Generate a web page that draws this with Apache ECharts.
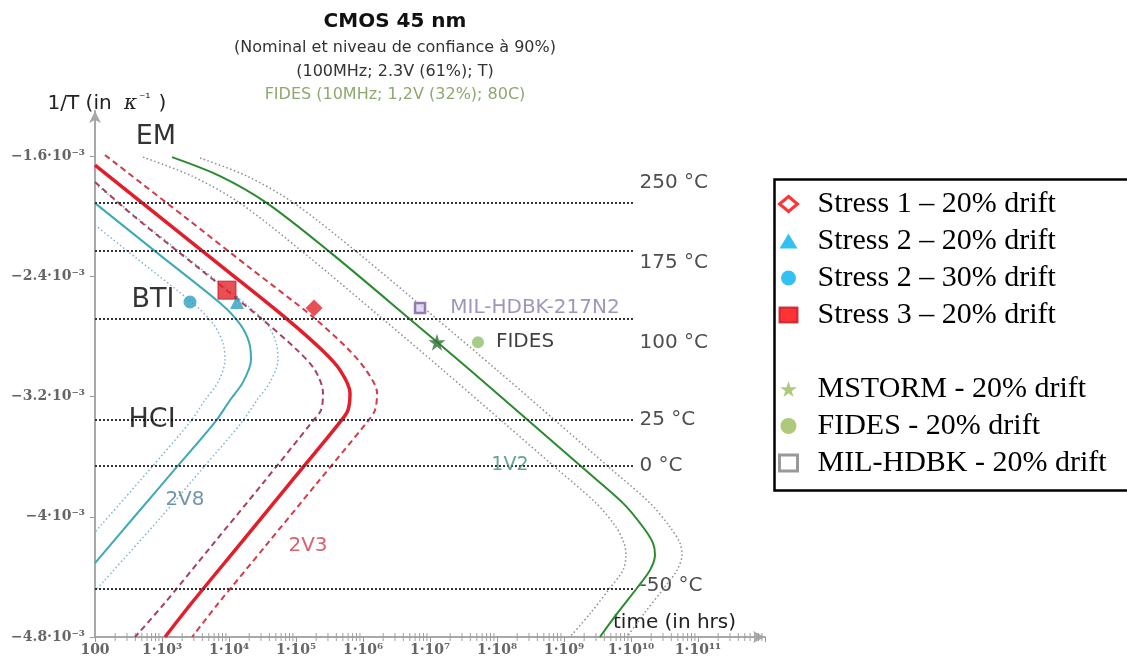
<!DOCTYPE html>
<html>
<head>
<meta charset="utf-8">
<script src="https://cdn.jsdelivr.net/npm/echarts@6/dist/echarts.min.js"></script>
<style>
  html, body { margin: 0; padding: 0; background: #ffffff; }
  #chart { width: 1127px; height: 663px; }
</style>
</head>
<body>
<div id="chart"></div>
<script>
// ---- Axes: time in hours (log) vs. inverse temperature (−1/T, K⁻¹) ----
const yTickValues = [-4.8e-3, -4.0e-3, -3.2e-3, -2.4e-3, -1.6e-3];
const yTickLabels = ['−4.8·10⁻³', '−4·10⁻³', '−3.2·10⁻³', '−2.4·10⁻³', '−1.6·10⁻³'];
const xTickLabels = ['100', '1·10³', '1·10⁴', '1·10⁵', '1·10⁶', '1·10⁷',
                     '1·10⁸', '1·10⁹', '1·10¹⁰', '1·10¹¹'];

// ---- Reference temperatures ----
const tempLabels = ['250 °C', '175 °C', '100 °C', '25 °C', '0 °C', '-50 °C'];
const tempInvK   = [-1.911e-3, -2.231e-3, -2.680e-3, -3.354e-3, -3.661e-3, -4.481e-3];

// ---- EM, 1V2 (nominal and 90% bounds) : [hours, -1/T] ----
const em12Nominal = [[1.41e3, -1.607e-3], [7.35e3, -1.733e-3], [3.69e4, -1.913e-3], [3.21e5, -2.239e-3],
  [5.02e6, -2.685e-3], [3.95e7, -3.024e-3], [3.11e8, -3.370e-3], [1.92e9, -3.676e-3], [7.60e9, -3.909e-3],
  [1.51e10, -4.068e-3], [2.13e10, -4.175e-3], [2.28e10, -4.254e-3], [1.92e10, -4.355e-3],
  [1.23e10, -4.474e-3], [6.18e9, -4.645e-3], [3.44e9, -4.800e-3]];
const em12Low = [[520, -1.607e-3], [2.81e3, -1.733e-3], [1.46e4, -1.913e-3], [1.27e5, -2.239e-3],
  [1.99e6, -2.685e-3], [1.56e7, -3.024e-3], [1.23e8, -3.370e-3], [7.60e8, -3.676e-3], [3.01e9, -3.909e-3],
  [5.97e9, -4.068e-3], [7.87e9, -4.175e-3], [8.42e9, -4.254e-3], [7.60e9, -4.355e-3],
  [4.86e9, -4.474e-3], [2.44e9, -4.645e-3], [1.23e9, -4.800e-3]];
const em12High = [[3.69e3, -1.613e-3], [1.86e4, -1.733e-3], [9.33e4, -1.913e-3], [8.13e5, -2.239e-3],
  [1.27e7, -2.685e-3], [1.0e8, -3.024e-3], [7.87e8, -3.370e-3], [4.86e9, -3.676e-3], [1.92e10, -3.909e-3],
  [3.82e10, -4.068e-3], [5.38e10, -4.175e-3], [5.77e10, -4.254e-3], [4.86e10, -4.355e-3],
  [3.11e10, -4.474e-3], [1.56e10, -4.645e-3], [8.71e9, -4.800e-3]];

// ---- 2V3 (nominal and 90% bounds) ----
const v23Nominal = [[100, -1.660e-3], [933, -2.006e-3], [8.71e3, -2.352e-3], [7.35e4, -2.685e-3],
  [2.44e5, -2.891e-3], [4.54e5, -3.024e-3], [6.40e5, -3.177e-3], [5.97e5, -3.290e-3], [4.54e5, -3.370e-3],
  [8.13e4, -3.776e-3], [1.46e4, -4.182e-3], [2.62e3, -4.587e-3], [1.11e3, -4.800e-3]];
const v23Low = [[100, -1.773e-3], [395, -2.006e-3], [3.69e3, -2.352e-3], [3.11e4, -2.685e-3],
  [1.04e5, -2.891e-3], [1.92e5, -3.024e-3], [2.53e5, -3.177e-3], [2.36e5, -3.290e-3], [1.73e5, -3.370e-3],
  [3.22e4, -3.776e-3], [5.77e3, -4.182e-3], [1.04e3, -4.587e-3], [395, -4.800e-3]];
const v23High = [[141, -1.593e-3], [2.20e3, -2.006e-3], [2.06e4, -2.345e-3], [1.73e5, -2.665e-3],
  [5.77e5, -2.877e-3], [1.11e6, -3.024e-3], [1.62e6, -3.177e-3], [1.51e6, -3.290e-3], [1.15e6, -3.370e-3],
  [2.06e5, -3.776e-3], [3.69e4, -4.182e-3], [6.62e3, -4.587e-3], [2.81e3, -4.800e-3]];

// ---- 2V8 (nominal and 90% bounds) ----
const v28Nominal = [[100, -1.913e-3], [933, -2.259e-3], [7.35e3, -2.578e-3], [1.46e4, -2.718e-3],
  [1.99e4, -2.838e-3], [2.13e4, -2.957e-3], [1.62e4, -3.104e-3], [1.04e4, -3.223e-3], [6.18e3, -3.370e-3],
  [1.56e3, -3.683e-3], [395, -3.995e-3], [100, -4.308e-3]];
const v28Low = [[100, -2.059e-3], [395, -2.272e-3], [3.11e3, -2.591e-3], [5.97e3, -2.724e-3],
  [8.13e3, -2.844e-3], [8.71e3, -2.957e-3], [6.86e3, -3.104e-3], [4.39e3, -3.223e-3], [2.62e3, -3.370e-3],
  [662, -3.683e-3], [100, -4.102e-3]];
const v28High = [[100, -1.786e-3], [2.20e3, -2.265e-3], [1.86e4, -2.591e-3], [3.69e4, -2.718e-3],
  [5.02e4, -2.838e-3], [5.38e4, -2.957e-3], [4.09e4, -3.104e-3], [2.62e4, -3.223e-3], [1.56e4, -3.370e-3],
  [3.95e3, -3.683e-3], [1.0e3, -3.995e-3], [100, -4.494e-3]];

// ---- Measured / predicted points ----
const stress1_20 = [[1.86e5, -2.611e-3]];
const stress2_20 = [[1.32e4, -2.571e-3]];
const stress2_30 = [[2.62e3, -2.571e-3]];
const stress3_20 = [[9.33e3, -2.492e-3]];
const mstorm_20  = [[1.27e7, -2.838e-3]];
const fides_20   = [[5.2e7, -2.838e-3]];
const milhdbk_20 = [[7.1e6, -2.611e-3]];

// ---- Mechanism / voltage annotations ----
const noteText = ['EM', 'BTI', 'HCI', '2V8', '2V3', '1V2'];
const noteAt   = [[813, -1.474e-3], [735, -2.558e-3], [710, -3.356e-3],
                  [2.2e3, -3.889e-3], [1.51e5, -4.195e-3], [1.56e8, -3.656e-3]];

// ---- styling ----
const noteStyle = [
  { fontSize: 27, color: '#000' }, { fontSize: 27, color: '#000' }, { fontSize: 27, color: '#000' },
  { fontSize: 20, color: '#4c7a96' }, { fontSize: 20, color: '#d0394a' }, { fontSize: 19, color: '#3b8f78' }
];
const tempLabelDy = [-20, 12, 24, 0, 0, -3];
const tempLineEnd = 1.07e10;
const sans = "'DejaVu Sans', Verdana, sans-serif";
const serif = "'Liberation Serif', 'Times New Roman', serif";
const tickFont = "'DejaVu Serif', serif";
const starPath = 'path://M50,0 L61,35 L98,35 L68,57 L79,91 L50,70 L21,91 L32,57 L2,35 L39,35 Z';

function curve(name, data, color, width, type) {
  return {
    name: name, type: 'line', data: data, showSymbol: false, smooth: 0.3,
    lineStyle: { color: color, width: width, type: type },
    z: 3, silent: true
  };
}
function points(name, data, symbol, size, style, label) {
  return {
    name: name, type: 'scatter', data: data, symbol: symbol, symbolSize: size,
    itemStyle: style, z: 6, silent: true, label: label || { show: false }
  };
}

// small log-spaced minor ticks (2..9 in every decade) along the time axis
const minorTicks = [];
for (let d = 2; d < 12; d++) {
  for (let m = 2; m <= 9; m++) minorTicks.push(m * Math.pow(10, d));
}

const legendText = { fontFamily: serif, fontSize: 30, color: '#000', padding: [0, 0, 0, 15] };

const chart = echarts.init(document.getElementById('chart'), null, { renderer: 'canvas' });

chart.setOption({
  animation: false,
  backgroundColor: '#ffffff',
  title: [
    { text: 'CMOS 45 nm', left: 390, top: 7, textAlign: 'center',
      textStyle: { fontFamily: sans, fontSize: 20, fontWeight: 'bold', color: '#111' } },
    { text: '(Nominal et niveau de confiance à 90%)', left: 390, top: 35, textAlign: 'center',
      textStyle: { fontFamily: sans, fontSize: 16, fontWeight: 'normal', color: '#333' } },
    { text: '(100MHz; 2.3V (61%); T)', left: 390, top: 59, textAlign: 'center',
      textStyle: { fontFamily: sans, fontSize: 16, fontWeight: 'normal', color: '#333' } },
    { text: 'FIDES (10MHz; 1,2V (32%); 80C)', left: 390, top: 82, textAlign: 'center',
      textStyle: { fontFamily: sans, fontSize: 16, fontWeight: 'normal', color: '#8ea86e' } }
  ],
  grid: { left: 95, right: 362, top: 111, bottom: 26, containLabel: false },
  legend: [
    {
      orient: 'vertical', left: 773, top: 184, itemGap: 7, itemWidth: 18, itemHeight: 15,
      selectedMode: false, textStyle: legendText,
      data: [
        { name: 'Stress 1 – 20% drift', icon: 'diamond',
          itemStyle: { color: '#ffffff', borderColor: '#ff0000', borderWidth: 3 } },
        { name: 'Stress 2 – 20% drift', icon: 'triangle', itemStyle: { color: '#00b0f0' } },
        { name: 'Stress 2 – 30% drift', icon: 'circle', itemStyle: { color: '#00b0f0' } },
        { name: 'Stress 3 – 20% drift', icon: 'rect', itemStyle: { color: '#ff0000' } }
      ]
    },
    {
      orient: 'vertical', left: 773, top: 369, itemGap: 7, itemWidth: 18, itemHeight: 16,
      selectedMode: false, textStyle: legendText,
      data: [
        { name: 'MSTORM - 20% drift', icon: starPath, itemStyle: { color: '#9bbb59' } },
        { name: 'FIDES - 20% drift', icon: 'circle', itemStyle: { color: '#9bbb59' } },
        { name: 'MIL-HDBK - 20% drift', icon: 'rect',
          itemStyle: { color: '#ffffff', borderColor: '#7f7f7f', borderWidth: 3 } }
      ]
    }
  ],
  graphic: [
    { type: 'rect', left: 772, top: 177, z: 10, silent: true,
      shape: { width: 362, height: 311 },
      style: { fill: 'none', stroke: '#000', lineWidth: 2.5 } }
  ],
  xAxis: {
    type: 'log', logBase: 10, min: 100, max: 1e12,
    name: 'time (in hrs)', nameLocation: 'end', nameGap: -152,
    nameTextStyle: { fontFamily: sans, fontSize: 20, color: '#222', align: 'left',
                     verticalAlign: 'bottom', padding: [0, 0, 4, 0] },
    axisLine: { onZero: false, symbol: ['none', 'arrow'], symbolSize: [9, 12],
                lineStyle: { color: '#a8a8a8', width: 2 } },
    axisTick: { show: true, length: 5, lineStyle: { color: '#999', width: 1 } },
    splitLine: { show: false },
    axisLabel: {
      fontFamily: tickFont, fontSize: 14, color: '#666', fontWeight: 'bold', margin: 6,
      formatter: function (v) {
        const e = Math.round(Math.log10(v));
        return xTickLabels[e - 2] || '';
      }
    }
  },
  yAxis: {
    type: 'value', min: -4.8e-3, max: -1.3e-3,
    name: '1/T (in {k|κ}{s|⁻¹} )', nameLocation: 'end', nameGap: -4,
    nameTextStyle: {
      fontFamily: sans, fontSize: 20, color: '#222', padding: [0, 0, 0, 24],
      rich: { k: { fontFamily: "'DejaVu Serif', serif", fontStyle: 'italic', fontSize: 20, color: '#222',
                   padding: [0, 0, 0, 6] },
              s: { fontFamily: sans, fontSize: 12, color: '#222', padding: [0, 2, 10, 2] } }
    },
    axisLine: { onZero: false, symbol: ['none', 'arrow'], symbolSize: [9, 12],
                lineStyle: { color: '#a8a8a8', width: 2 } },
    axisTick: { show: true, length: 5, customValues: yTickValues,
                lineStyle: { color: '#999', width: 1 } },
    splitLine: { show: false },
    axisLabel: {
      customValues: yTickValues,
      fontFamily: tickFont, fontSize: 14, color: '#666', fontWeight: 'bold', margin: 10,
      formatter: function (v) {
        const i = yTickValues.findIndex(t => Math.abs(t - v) < 1e-9);
        return i >= 0 ? yTickLabels[i] : '';
      }
    }
  },
  series: [
    // minor log ticks on the time axis
    {
      type: 'custom', silent: true, z: 2,
      data: minorTicks.map(v => [v, -4.8e-3]),
      renderItem: function (params, api) {
        const p = api.coord([api.value(0), api.value(1)]);
        return { type: 'line', shape: { x1: p[0], y1: p[1] - 4, x2: p[0], y2: p[1] + 4 },
                 style: { stroke: '#a0a0a0', lineWidth: 1 } };
      }
    },
    // reference temperature levels
    {
      name: 'temperatures', type: 'scatter', silent: true, z: 2,
      symbolSize: 1, itemStyle: { color: 'transparent' },
      data: tempInvK.map((y, i) => ({
        value: [tempLineEnd, y], name: tempLabels[i],
        label: { offset: [0, tempLabelDy[i]] }
      })),
      label: { show: true, position: 'right', distance: 6, formatter: '{b}',
               fontFamily: sans, fontSize: 20, color: '#222' },
      markLine: {
        silent: true, symbol: 'none', label: { show: false },
        lineStyle: { color: '#333', width: 2, type: [2, 2] },
        data: tempInvK.map(y => [{ coord: [100, y] }, { coord: [tempLineEnd, y] }])
      }
    },
    // EM 1V2
    curve('em12Low', em12Low, '#8d8d8d', 1.5, [1.5, 2.5]),
    curve('em12High', em12High, '#8d8d8d', 1.5, [1.5, 2.5]),
    curve('em12Nominal', em12Nominal, '#2a8a2e', 2, 'solid'),
    // 2V8
    curve('v28Low', v28Low, '#7fb5c9', 1.5, [1.5, 2.5]),
    curve('v28High', v28High, '#7fb5c9', 1.5, [1.5, 2.5]),
    curve('v28Nominal', v28Nominal, '#3ea9b7', 2, 'solid'),
    // 2V3
    curve('v23Low', v23Low, '#a8405a', 2, [6, 4]),
    curve('v23High', v23High, '#d43a48', 2, [6, 4]),
    curve('v23Nominal', v23Nominal, '#e31e2b', 3.5, 'solid'),
    // annotations
    {
      name: 'notes', type: 'scatter', silent: true, z: 5,
      symbolSize: 1, itemStyle: { color: 'transparent' },
      data: noteAt.map((p, i) => ({
        value: p, name: noteText[i],
        label: { fontSize: noteStyle[i].fontSize, color: noteStyle[i].color }
      })),
      label: { show: true, position: 'inside', formatter: '{b}', fontFamily: sans }
    },
    // measured / predicted points
    points('Stress 1 – 20% drift', stress1_20, 'diamond', 17, { color: '#e3242b' }),
    points('Stress 2 – 20% drift', stress2_20, 'triangle', 14, { color: '#2aa0c0' }),
    points('Stress 2 – 30% drift', stress2_30, 'circle', 13, { color: '#2aa0c0' }),
    points('Stress 3 – 20% drift', stress3_20, 'rect', 18,
           { color: '#e3242b', borderColor: '#b8182a', borderWidth: 1 }),
    points('MSTORM - 20% drift', mstorm_20, starPath, 17, { color: '#2f6e34' }),
    points('FIDES - 20% drift', fides_20, 'circle', 12, { color: '#8fbf6a' },
           { show: true, position: 'right', distance: 12, formatter: 'FIDES',
             fontFamily: sans, fontSize: 20, color: '#111' }),
    points('MIL-HDBK - 20% drift', milhdbk_20, 'rect', 10,
           { color: '#ddd2ea', borderColor: '#7d5fa0', borderWidth: 2.5 },
           { show: true, position: 'right', distance: 24, formatter: 'MIL-HDBK-217N2',
             fontFamily: sans, fontSize: 20, color: '#8a7ca8' })
  ]
});
</script>
</body>
</html>
